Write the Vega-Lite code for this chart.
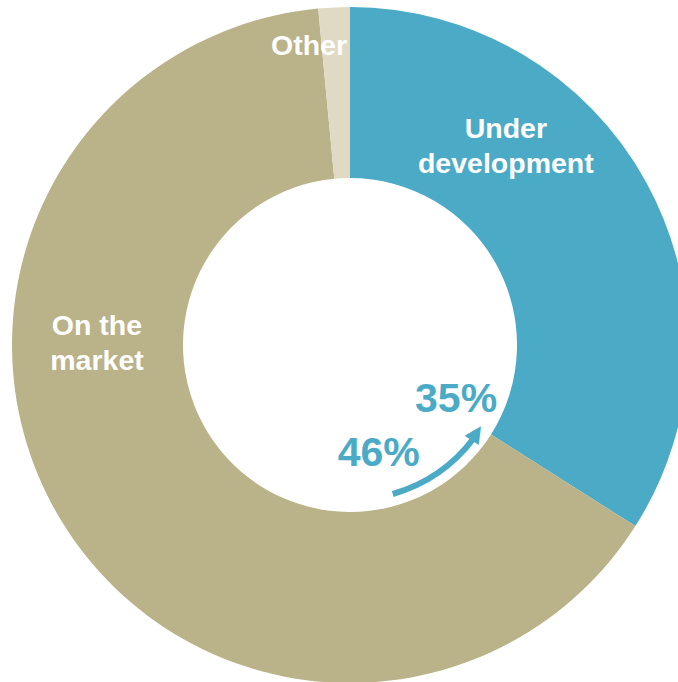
{
  "$schema": "https://vega.github.io/schema/vega-lite/v6.json",
  "width": 656,
  "height": 674,
  "autosize": {"type": "none"},
  "padding": {"left": 22, "top": 8, "right": 0, "bottom": 0},
  "background": "white",
  "config": {"view": {"stroke": null}},
  "layer": [
    {
      "data": {"values": [
        {"category": "Under development", "share": 34, "order": 1},
        {"category": "On the market", "share": 64.5, "order": 2},
        {"category": "Other", "share": 1.5, "order": 3}
      ]},
      "mark": {"type": "arc", "innerRadius": 167, "outerRadius": 338},
      "encoding": {
        "theta": {"field": "share", "type": "quantitative", "stack": true, "scale": {"domain": [0, 100]}},
        "order": {"field": "order", "type": "quantitative"},
        "color": {"field": "category", "type": "nominal", "legend": null,
          "scale": {"domain": ["Under development", "On the market", "Other"], "range": ["#4BABC6", "#BAB289", "#E0DAC5"]}}
      }
    },
    {
      "data": {"values": [
        {"from": 127, "to": 164}
      ]},
      "mark": {"type": "arc", "innerRadius": 152, "outerRadius": 158, "color": "#4BABC6"},
      "encoding": {
        "theta": {"field": "from", "type": "quantitative", "stack": null, "scale": {"domain": [0, 360], "range": [0, 6.283185307]}},
        "theta2": {"field": "to"}
      }
    },
    {
      "data": {"values": [
        {"glyph": "▲", "angle": 124.5, "r": 154}
      ]},
      "mark": {"type": "text", "color": "#4BABC6", "fontSize": 22, "font": "DejaVu Sans", "angle": 33, "baseline": "middle", "align": "center"},
      "encoding": {
        "theta": {"field": "angle", "type": "quantitative", "stack": null, "scale": {"domain": [0, 360], "range": [0, 6.283185307]}},
        "radius": {"field": "r", "type": "quantitative", "scale": {"type": "linear", "domain": [0, 400], "range": [0, 400], "zero": true}},
        "text": {"field": "glyph"}
      }
    },
    {
      "data": {"values": [
        {"label": "Under\ndevelopment", "angle": 35.8, "r": 266.4, "size": 28.5, "kind": "cat"},
        {"label": "On the\nmarket", "angle": 274.2, "r": 253.7, "size": 28.5, "kind": "cat"},
        {"label": "Other", "angle": 352.2, "r": 302, "size": 28.5, "kind": "cat"},
        {"label": "35%", "angle": 117.4, "r": 119.5, "size": 41, "kind": "pct"},
        {"label": "46%", "angle": 165.2, "r": 112.5, "size": 41, "kind": "pct"}
      ]},
      "mark": {"type": "text", "font": "Liberation Sans", "fontWeight": "bold", "lineBreak": "\n", "lineHeight": 35, "baseline": "middle", "align": "center"},
      "encoding": {
        "theta": {"field": "angle", "type": "quantitative", "stack": null, "scale": {"domain": [0, 360], "range": [0, 6.283185307]}},
        "radius": {"field": "r", "type": "quantitative", "scale": {"type": "linear", "domain": [0, 400], "range": [0, 400], "zero": true}},
        "text": {"field": "label"},
        "size": {"field": "size", "type": "quantitative", "scale": null},
        "color": {"field": "kind", "type": "nominal", "legend": null, "scale": {"domain": ["cat", "pct"], "range": ["#FFFFFF", "#4BABC6"]}}
      }
    }
  ],
  "resolve": {"scale": {"theta": "independent", "color": "independent", "radius": "shared"}}
}
